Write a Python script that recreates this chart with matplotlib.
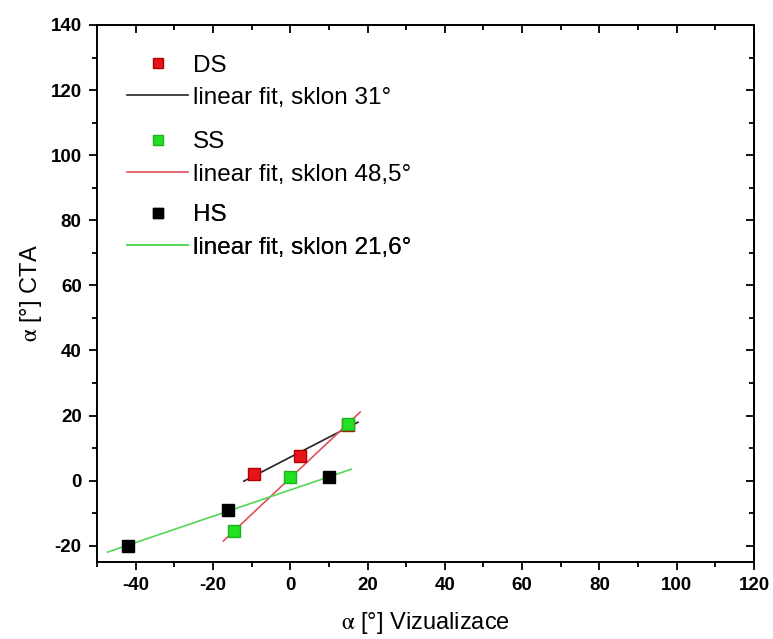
import matplotlib
matplotlib.use("Agg")
import matplotlib.pyplot as plt
from matplotlib.lines import Line2D
from matplotlib.ticker import MultipleLocator
import numpy as np

plt.rcParams.update({
    "font.family": ["Liberation Sans", "DejaVu Sans"],
    "mathtext.fontset": "stix",
    "axes.linewidth": 1.4,
    "axes.unicode_minus": False,
})

# ── Data ─────────────────────────────────────────────────────────────
ds_x = [-9.5, 2.5, 15.0]
ds_y = [2.0, 7.5, 17.0]
ss_x = [-14.5, 0.0, 15.0]
ss_y = [-15.5, 1.0, 17.5]
hs_x = [-42.0, -16.0, 10.0]
hs_y = [-20.0, -9.0, 1.0]

# x-span over which each fit line is drawn
ds_fit_span = [-12.0, 17.5]
ss_fit_span = [-17.3, 18.1]
hs_fit_span = [-47.3, 15.8]

RED = "#e8141c"
GREEN = "#22e022"
BLACK = "#000000"

fig = plt.figure(figsize=(7.73, 6.39), dpi=100)
ax = fig.add_axes([0.1255, 0.1205, 0.8499, 0.8404])


def fit_line(xs, ys, span):
    k, q = np.polyfit(xs, ys, 1)
    xx = np.array(span)
    return xx, k * xx + q


for xs, ys, span, lc in [(ds_x, ds_y, ds_fit_span, "#222222"),
                         (ss_x, ss_y, ss_fit_span, "#e0505a"),
                         (hs_x, hs_y, hs_fit_span, "#55d655")]:
    fx, fy = fit_line(xs, ys, span)
    ax.plot(fx, fy, color=lc, lw=1.2, zorder=2)

ms = 8.5
ax.plot(ds_x, ds_y, "s", color=RED, mec="#b00000", ms=ms, zorder=3)
ax.plot(hs_x, hs_y, "s", color=BLACK, mec=BLACK, ms=ms, zorder=3)
ax.plot(ss_x, ss_y, "s", color=GREEN, mec="#20b020", ms=ms, zorder=4)

ax.set_xlim(-50, 120)
ax.set_ylim(-25, 140)
ax.xaxis.set_major_locator(MultipleLocator(20))
ax.xaxis.set_minor_locator(MultipleLocator(10))
ax.yaxis.set_major_locator(MultipleLocator(20))
ax.yaxis.set_minor_locator(MultipleLocator(10))
ax.tick_params(which="major", direction="out", length=6, width=1.3,
               labelsize=13.5, pad=5)
ax.tick_params(which="minor", direction="out", length=3.5, width=1.3)
for lbl in ax.get_xticklabels() + ax.get_yticklabels():
    lbl.set_fontweight("bold")

# mirrored ticks pointing inward on top and right
top = ax.secondary_xaxis("top")
top.xaxis.set_major_locator(MultipleLocator(20))
top.xaxis.set_minor_locator(MultipleLocator(10))
top.tick_params(which="major", direction="in", length=6, width=1.3, labeltop=False)
top.tick_params(which="minor", direction="in", length=3.5, width=1.3)
right = ax.secondary_yaxis("right")
right.yaxis.set_major_locator(MultipleLocator(20))
right.yaxis.set_minor_locator(MultipleLocator(10))
right.tick_params(which="major", direction="in", length=6, width=1.3, labelright=False)
right.tick_params(which="minor", direction="in", length=3.5, width=1.3)

ax.set_xlabel(r"$\mathrm{\alpha}$ [°] Vizualizace", fontsize=17, labelpad=11)
ax.set_ylabel(r"$\mathrm{\alpha}$ [°] CTA", fontsize=17, labelpad=5)

# ── Legend: three groups (marker + fit line) ─────────────────────────
groups = [
    ("DS", RED, "#b00000", "linear fit, sklon 31°", "#222222", 0.945),
    ("SS", GREEN, "#20b020", "linear fit, sklon 48,5°", "#e0505a", 0.802),
    ("HS", BLACK, BLACK, "linear fit, sklon 21,6°", "#55d655", 0.666),
]
for name, fc, ec, fit_lbl, lc, ytop in groups:
    handles = [
        Line2D([], [], ls="none", marker="s", color=fc, mec=ec, ms=7.5),
        Line2D([], [], color=lc, lw=1.2),
    ]
    leg = ax.legend(handles, [name, fit_lbl], loc="upper left",
                    bbox_to_anchor=(0.046, ytop), frameon=False, fontsize=17.5,
                    handlelength=2.5, handletextpad=0.2, labelspacing=0.42,
                    borderaxespad=0, borderpad=0)
    ax.add_artist(leg)

fig.savefig("out.png", dpi=100)
plt.close(fig)
